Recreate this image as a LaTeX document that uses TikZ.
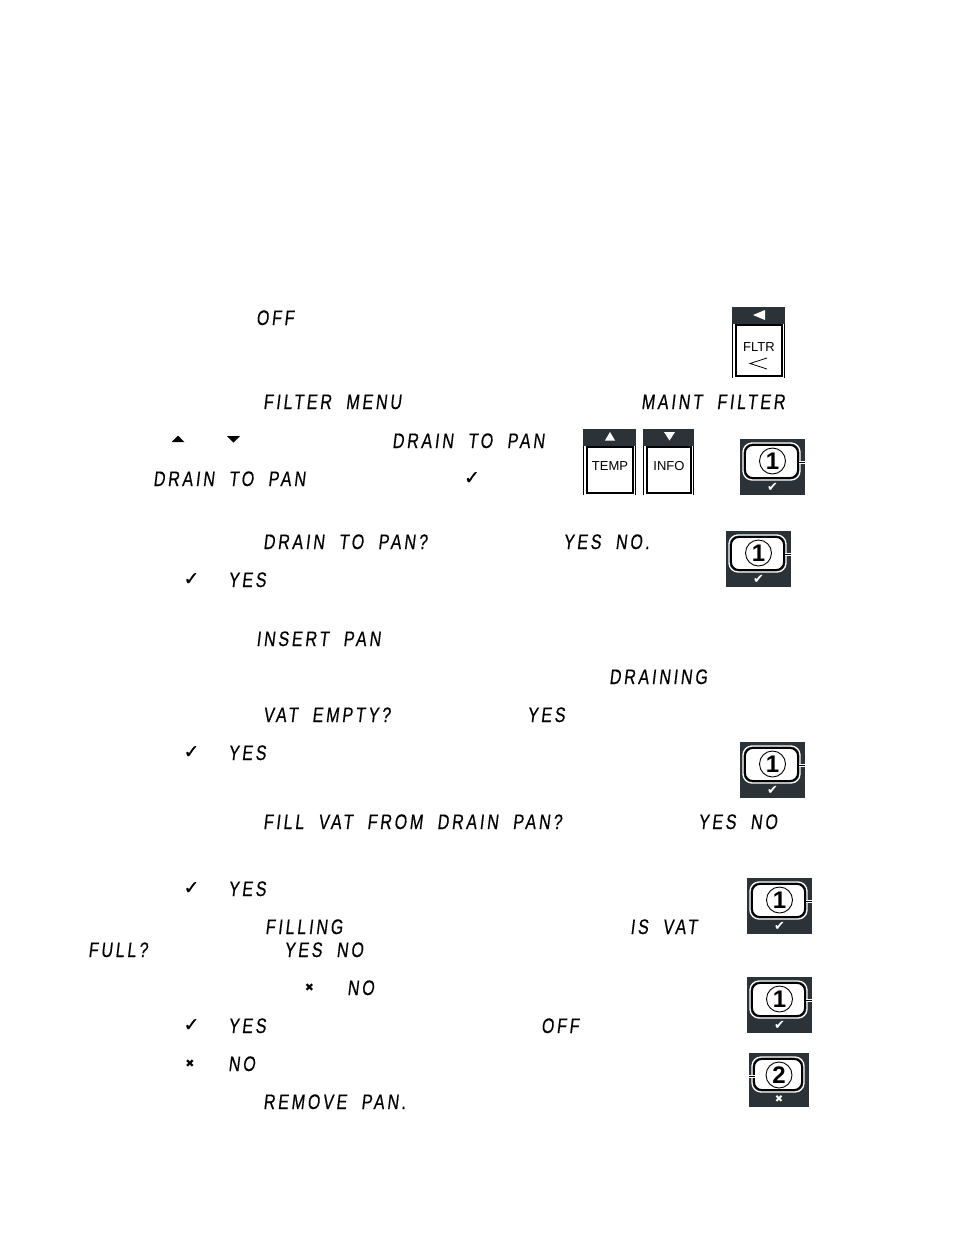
\documentclass[tikz,border=0pt]{standalone}
\usepackage{fontspec}
\setmainfont{Liberation Sans}
\newfontfamily\lcdfont[FakeSlant=0.12,FakeStretch=0.76,FakeBold=0.4,LetterSpace=13.5,WordSpace=2.0]{Liberation Sans}
\newfontfamily\symfont{DejaVu Sans}
\newfontfamily\symbold[FakeBold=0.6]{DejaVu Sans}
\definecolor{panel}{HTML}{2B3338}
\tikzset{
  lcd/.style={anchor=base west,inner sep=0pt,font=\lcdfont\fontsize{21}{21}\selectfont},
  sym/.style={anchor=center,inner sep=0pt,font=\symbold\fontsize{19}{19}\selectfont},
  xsym/.style={anchor=center,inner sep=0pt,font=\symfont\fontsize{11}{11}\selectfont},
  keytext/.style={anchor=center,inner sep=0pt,font=\fontsize{13}{13}\selectfont},
  tri/.style={fill=black,draw=none},
}
% \numkey{name}{left}{top}{width}{height}{digit}{mark}{mark size}{nub side: 1 right,-1 left}
\newcommand{\numkey}[9]{%
  \begin{scope}[shift={(#2,#3)}]
    \fill[panel] (0,0) rectangle (#4,#5);
    \draw[white,line width=1.3pt,rounded corners=9pt] (3,4) rectangle (#4-5,#5-15);
    \draw[black,fill=white,line width=1.8pt,rounded corners=8pt] (5,6) rectangle (#4-7,#5-17);
    \ifnum#9=1
      \draw[white,line width=3pt] (#4-6,23) -- (#4,23);
      \draw[black,line width=1pt] (#4-6,23) -- (#4,23);
    \else
      \draw[white,line width=3pt] (0,23) -- (6,23);
      \draw[black,line width=1pt] (0,23) -- (6,23);
    \fi
    \node[draw=black,line width=.9pt,circle,minimum size=26pt,inner sep=0pt,font=\bfseries\fontsize{24}{24}\selectfont] (#1d) at (0.5*#4,22) {#6};
    \node[inner sep=0pt,text=white,font=\symfont\fontsize{#8}{#8}\selectfont] (#1m) at (0.5*#4,#5-8) {#7};
  \end{scope}}
% \funckey{left}{top}{width}{height}{content}
\newcommand{\funckey}[5]{%
  \begin{scope}[shift={(#1,#2)}]
    \fill[panel] (0,0) rectangle (#3,17);
    \draw[black,line width=.8pt] (0.5,17) -- (0.5,#4);
    \draw[black,line width=.8pt] (#3-.5,17) -- (#3-.5,#4);
    \draw[black,fill=white,line width=1.4pt] (4,18) rectangle (#3-3,#4-2);
    #5
  \end{scope}}
\begin{document}
\begin{tikzpicture}[x=1pt,y=-1pt]
\useasboundingbox[fill=white] (0,0) rectangle (954,1235);
% display texts
\node[lcd] (t1) at (256,325) {OFF};
\node[lcd] (t2) at (263,409) {FILTER MENU};
\node[lcd] (t3) at (641,409) {MAINT FILTER};
\node[lcd] (t4) at (392,448) {DRAIN TO PAN};
\node[lcd] (t5) at (153,486) {DRAIN TO PAN};
\node[lcd] (t6) at (263,549) {DRAIN TO PAN?};
\node[lcd] (t7) at (563,549) {YES NO.};
\node[lcd] (t8) at (228,587) {YES};
\node[lcd] (t9) at (256,646) {INSERT PAN};
\node[lcd] (t10) at (609,684) {DRAINING};
\node[lcd] (t11) at (263,722) {VAT EMPTY?};
\node[lcd] (t12) at (527,722) {YES};
\node[lcd] (t13) at (228,760) {YES};
\node[lcd] (t14) at (263,829) {FILL VAT FROM DRAIN PAN?};
\node[lcd] (t15) at (698,829) {YES NO};
\node[lcd] (t16) at (228,896) {YES};
\node[lcd] (t17) at (265,934) {FILLING};
\node[lcd] (t18) at (630,934) {IS VAT};
\node[lcd] (t19) at (88,957) {FULL?};
\node[lcd] (t20) at (284,957) {YES NO};
\node[lcd] (t21) at (347,995) {NO};
\node[lcd] (t22) at (228,1033) {YES};
\node[lcd] (t23) at (541,1033) {OFF};
\node[lcd] (t24) at (228,1071) {NO};
\node[lcd] (t25) at (263,1109) {REMOVE PAN.};
% symbols in the running text
\fill[tri] (171.5,442) -- (178,435.5) -- (184.5,442) -- cycle;
\fill[tri] (227,436) -- (233.5,442.5) -- (240,436) -- cycle;
\node[sym] (c1) at (472,478) {✓};
\node[sym] (c2) at (191.5,579) {✓};
\node[sym] (c3) at (191.5,752) {✓};
\node[sym] (c4) at (191.5,888) {✓};
\node[xsym] (x1) at (309.5,988) {✖};
\node[sym] (c5) at (191.5,1025) {✓};
\node[xsym] (x2) at (190,1064) {✖};
% FLTR key
\funckey{732}{307}{53}{71}{
  \fill[white] (21,8) -- (33,3) -- (33,13) -- cycle;
  \node[keytext] (fltrt) at (27,40) {FLTR};
  \draw[black,line width=.8pt] (35,51) -- (18,56.5) -- (35,62);
}
% TEMP and INFO keys
\funckey{583}{429}{53}{66}{
  \fill[white] (22,11.5) -- (27,3) -- (32,11.5) -- cycle;
  \node[keytext] (tempt) at (27,37) {TEMP};
}
\funckey{643}{429}{51}{66}{
  \fill[white] (21,3) -- (26.5,11.5) -- (32,3) -- cycle;
  \node[keytext] (infot) at (26,37) {INFO};
}
% number keys
\numkey{a}{740}{439}{65}{56}{1}{✔}{13}{1}
\numkey{b}{726}{531}{65}{56}{1}{✔}{13}{1}
\numkey{c}{740}{742}{65}{56}{1}{✔}{13}{1}
\numkey{e}{747}{878}{65}{56}{1}{✔}{13}{1}
\numkey{f}{747}{977}{65}{56}{1}{✔}{13}{1}
\numkey{g}{749}{1053}{60}{54}{2}{✖}{10}{-1}
\end{tikzpicture}
\end{document}
